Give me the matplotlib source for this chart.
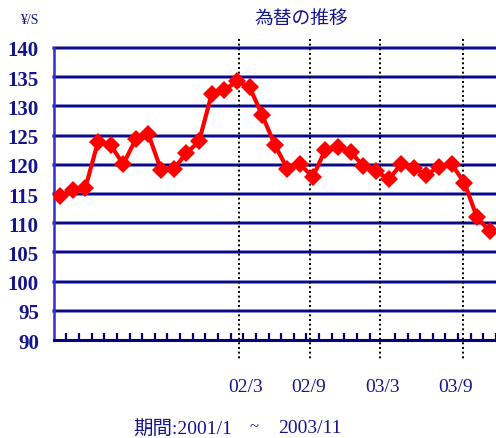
import matplotlib
matplotlib.use("Agg")
import matplotlib.pyplot as plt
import numpy as np

# Monthly yen/dollar rate, 2001/1 .. 2003/11
rates = [114.7, 115.7, 116.0, 123.9, 123.4, 120.1, 124.4, 125.2, 119.1, 119.3,
         122.0, 124.0, 132.1, 132.8, 134.3, 133.3, 128.5, 123.4, 119.3, 120.1,
         117.9, 122.6, 123.0, 122.2, 119.8, 119.0, 117.5, 120.1, 119.4, 118.3,
         119.7, 120.1, 116.9, 111.0, 108.6]
months = np.arange(len(rates))

y_ticks = [90, 95, 100, 105, 110, 115, 120, 125, 130, 135, 140]
mark_pos = [14.2, 19.8, 25.3, 31.9]          # dotted marker lines
label_pos = [14.7, 19.7, 25.5, 31.3]
label_txt = ["02/3", "02/9", "03/3", "03/9"]

NAVY = "#000080"
TXT = "#14148c"
JP = ["Noto Sans CJK JP", "DejaVu Sans"]
SERIF = ["Liberation Serif", "Noto Sans CJK JP"]

fig = plt.figure(figsize=(4.96, 4.39), dpi=100)
ax = fig.add_axes([0.109, 0.2232, 0.891, 0.6652])
ax.set_xlim(-0.47, 34.47)
ax.set_ylim(90, 140)

# grid lines with a light halo
for v in y_ticks[1:]:
    ax.axhline(v, color="#6a6ac0", lw=2.6, zorder=1, clip_on=False)
    ax.axhline(v, color=NAVY, lw=1.3, zorder=1.1, clip_on=False)

# dotted month markers, reaching past the plot area
for p in mark_pos:
    ax.plot([p, p], [141.5, 86.7], color="black", lw=1.4,
            linestyle=(0, (1, 1.4)), clip_on=False, zorder=2)

ax.plot(months, rates, color="#ff0000", lw=3, marker="D", markersize=9.5,
        markeredgewidth=0, zorder=3)

for s in ["top", "right"]:
    ax.spines[s].set_visible(False)
ax.spines["left"].set_color("#3030c8")
ax.spines["left"].set_linewidth(1.8)
ax.spines["bottom"].set_color(NAVY)
ax.spines["bottom"].set_linewidth(2.2)

ax.set_yticks(y_ticks)
ax.set_yticklabels([str(v) for v in y_ticks], family=SERIF, fontweight="bold",
                   fontsize=15, color=TXT)
ax.tick_params(axis="y", length=0, pad=11)

ax.set_xticks(label_pos)
ax.set_xticklabels(label_txt, family=SERIF, fontsize=14, color=TXT)
ax.tick_params(axis="x", which="major", length=0, pad=27)
ax.set_xticks(np.arange(0.5, 34.6, 1), minor=True)
ax.tick_params(axis="x", which="minor", direction="in", length=5,
               width=1.6, color=NAVY)

fig.text(20 / 496, 1 - 20 / 439, "¥/S", family=SERIF, fontsize=10,
         color=TXT, va="center", ha="left")
fig.text(301 / 496, 1 - 18 / 439, "為替の推移", family=JP, fontsize=13.5,
         color=TXT, va="center", ha="center")
fig.text(133 / 496, 1 - 429 / 439, "期間:2001/1", family=SERIF, fontsize=14,
         color=TXT, va="center", ha="left")
fig.text(254 / 496, 1 - 427 / 439, "~", family=SERIF, fontsize=12,
         color=TXT, va="center", ha="center")
fig.text(278 / 496, 1 - 429 / 439, "2003/11", family=SERIF, fontsize=14,
         color=TXT, va="center", ha="left")

fig.savefig("out.png", dpi=100)
